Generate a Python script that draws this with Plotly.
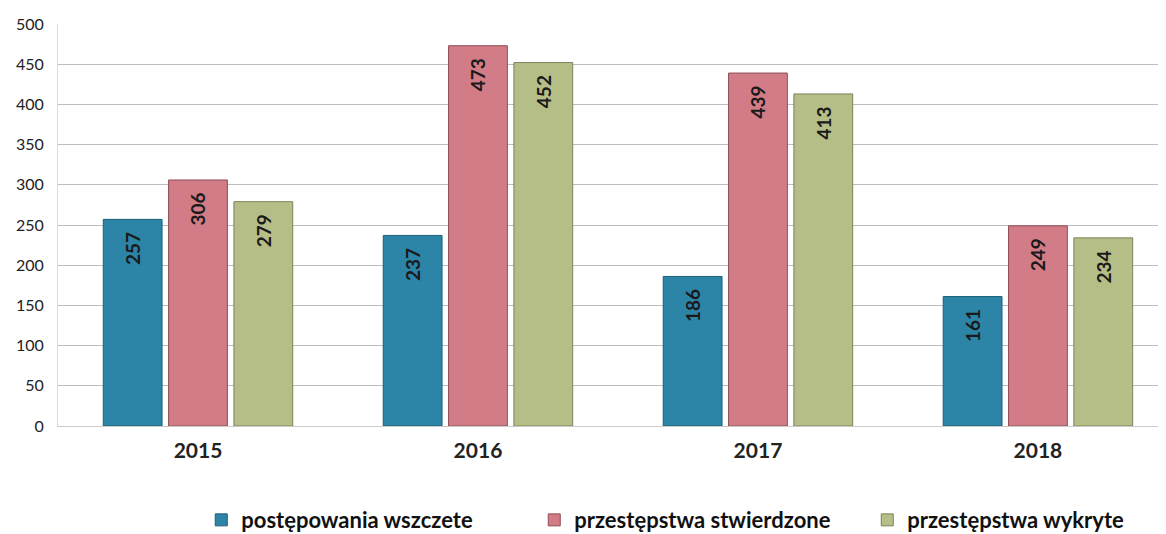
import plotly.graph_objects as go

years = ["2015", "2016", "2017", "2018"]
series_names = ["postępowania wszczete", "przestępstwa stwierdzone", "przestępstwa wykryte"]
wszczete = [257, 237, 186, 161]
stwierdzone = [306, 473, 439, 249]
wykryte = [279, 452, 413, 234]
y_ticks = [0, 50, 100, 150, 200, 250, 300, 350, 400, 450, 500]

colors = ["#2c84a6", "#d27c87", "#b6be88"]
edges = ["#1d5f78", "#8e4f57", "#7c8258"]

fig = go.Figure()
for name, vals, c, e in zip(series_names, [wszczete, stwierdzone, wykryte], colors, edges):
    fig.add_trace(go.Bar(
        x=years, y=vals, name=name,
        marker=dict(color=c, line=dict(color=e, width=1)),
        text=[str(v) + "\u2002" for v in vals],
        textposition="inside", insidetextanchor="end",
        textangle=-90,
        textfont=dict(family="Lato", size=19, color="#1a1a1a", weight="bold"),
        constraintext="none",
    ))

fig.update_layout(
    width=1166, height=534,
    margin=dict(l=50, r=14, t=16, b=116, autoexpand=False),
    paper_bgcolor="white", plot_bgcolor="white",
    barmode="group", bargap=0.3, bargroupgap=0.1,
    font=dict(family="Lato", color="#222"),
    xaxis=dict(
        range=[-0.5, 3.436], showgrid=False,
        tickfont=dict(size=21, color="#222", weight="bold"),
        showline=True, linecolor="#cccccc", linewidth=1, ticks="",
        ticklabelstandoff=6, automargin=False,
    ),
    yaxis=dict(
        range=[0, 500], tickvals=y_ticks,
        tickfont=dict(size=16, color="#222"),
        gridcolor="#bdbdbd", gridwidth=1,
        showline=True, linecolor="#dddddd", linewidth=1,
        zeroline=False, ticks="", ticklabelstandoff=10, automargin=False,
    ),
    legend=dict(
        orientation="h", x=0.13, xanchor="left", y=-0.234, yanchor="middle",
        font=dict(size=22, color="#111", weight="bold"), itemwidth=30,
        entrywidth=288, entrywidthmode="pixels",
        traceorder="normal",
    ),
    showlegend=True,
)

fig.write_html("out.html")
